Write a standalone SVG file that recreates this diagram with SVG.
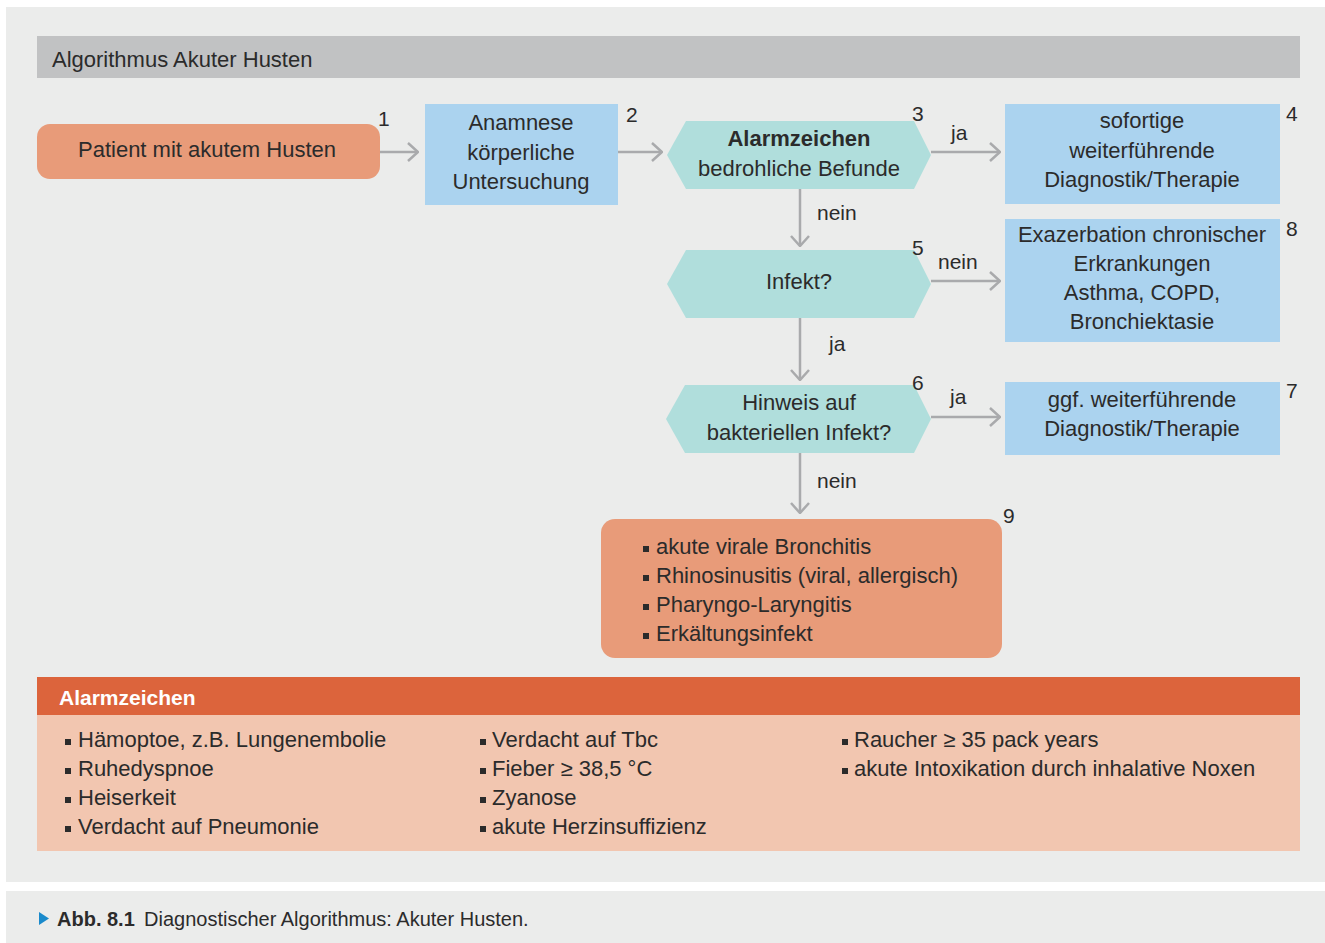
<svg xmlns="http://www.w3.org/2000/svg" width="1325" height="943" viewBox="0 0 1325 943">
<defs>
<style>
text{font-family:"Liberation Sans",Arial,sans-serif;fill:#2b2b2b;font-size:22px}
.c{text-anchor:middle}
.num{font-size:21px}
.lbl{font-size:21px}
.b{font-weight:bold}
.conn{stroke:#a9aaac;stroke-width:2.5;fill:none}
.orange{fill:#e89b79}
.blue{fill:#abd3ef}
.teal{fill:#b0dedc}
.cap{font-size:20px}
</style>
<marker id="arr" viewBox="0 0 12 20" refX="11" refY="10" markerWidth="12" markerHeight="20" markerUnits="userSpaceOnUse" orient="auto">
<path d="M1,1 L11,10 L1,19" fill="none" stroke="#a9aaac" stroke-width="2.5"/>
</marker>
</defs>
<rect width="1325" height="943" fill="#ffffff"/>
<rect x="6" y="7" width="1319" height="875" fill="#ebeceb"/>
<rect x="6" y="891" width="1319" height="52" fill="#ebeceb"/>
<g id="title">
<rect x="37" y="36" width="1263" height="42" fill="#c1c2c3"/>
<text x="52" y="67">Algorithmus Akuter Husten</text>
</g>
<g id="connectors">
<line class="conn" x1="380" y1="152" x2="418" y2="152" marker-end="url(#arr)"/>
<line class="conn" x1="618" y1="152" x2="662" y2="152" marker-end="url(#arr)"/>
<line class="conn" x1="931" y1="152" x2="1000" y2="152" marker-end="url(#arr)"/>
<text class="lbl" x="951" y="140">ja</text>
<line class="conn" x1="800" y1="189" x2="800" y2="246" marker-end="url(#arr)"/>
<text class="lbl" x="817" y="220">nein</text>
<line class="conn" x1="931" y1="281" x2="1000" y2="281" marker-end="url(#arr)"/>
<text class="lbl" x="938" y="269">nein</text>
<line class="conn" x1="800" y1="318" x2="800" y2="380" marker-end="url(#arr)"/>
<text class="lbl" x="829" y="351">ja</text>
<line class="conn" x1="931" y1="417" x2="1000" y2="417" marker-end="url(#arr)"/>
<text class="lbl" x="950" y="404">ja</text>
<line class="conn" x1="800" y1="453" x2="800" y2="513" marker-end="url(#arr)"/>
<text class="lbl" x="817" y="488">nein</text>
</g>
<g id="n1">
<rect class="orange" x="37" y="124" width="343" height="55" rx="13"/>
<text class="c" x="207" y="157">Patient mit akutem Husten</text>
<text class="num" x="378" y="126">1</text>
</g>
<g id="n2">
<rect class="blue" x="425" y="104" width="193" height="101"/>
<text class="c" x="521" y="130">Anamnese</text>
<text class="c" x="521" y="160">körperliche</text>
<text class="c" x="521" y="189">Untersuchung</text>
<text class="num" x="626" y="122">2</text>
</g>
<g id="n3">
<polygon class="teal" points="667,155 686,121 914,121 931,155 914,189 686,189"/>
<text class="c b" x="799" y="146">Alarmzeichen</text>
<text class="c" x="799" y="176">bedrohliche Befunde</text>
<text class="num" x="912" y="121">3</text>
</g>
<g id="n4">
<rect class="blue" x="1005" y="104" width="275" height="100"/>
<text class="c" x="1142" y="128">sofortige</text>
<text class="c" x="1142" y="158">weiterführende</text>
<text class="c" x="1142" y="187">Diagnostik/Therapie</text>
<text class="num" x="1286" y="121">4</text>
</g>
<g id="n5">
<polygon class="teal" points="667,284 686,250 914,250 931,284 914,318 686,318"/>
<text class="c" x="799" y="289">Infekt?</text>
<text class="num" x="912" y="255">5</text>
</g>
<g id="n8">
<rect class="blue" x="1005" y="219" width="275" height="123"/>
<text class="c" x="1142" y="242">Exazerbation chronischer</text>
<text class="c" x="1142" y="271">Erkrankungen</text>
<text class="c" x="1142" y="300">Asthma, COPD,</text>
<text class="c" x="1142" y="329">Bronchiektasie</text>
<text class="num" x="1286" y="236">8</text>
</g>
<g id="n6">
<polygon class="teal" points="666,419 685,385 914,385 931,419 914,453 685,453"/>
<text class="c" x="799" y="410">Hinweis auf</text>
<text class="c" x="799" y="440">bakteriellen Infekt?</text>
<text class="num" x="912" y="390">6</text>
</g>
<g id="n7">
<rect class="blue" x="1005" y="382" width="275" height="73"/>
<text class="c" x="1142" y="407">ggf. weiterführende</text>
<text class="c" x="1142" y="436">Diagnostik/Therapie</text>
<text class="num" x="1286" y="398">7</text>
</g>
<g id="n9">
<rect class="orange" x="601" y="519" width="401" height="139" rx="14"/>
<rect x="643" y="546" width="6" height="6" fill="#2b2b2b"/>
<text x="656" y="554">akute virale Bronchitis</text>
<rect x="643" y="575" width="6" height="6" fill="#2b2b2b"/>
<text x="656" y="583">Rhinosinusitis (viral, allergisch)</text>
<rect x="643" y="604" width="6" height="6" fill="#2b2b2b"/>
<text x="656" y="612">Pharyngo-Laryngitis</text>
<rect x="643" y="633" width="6" height="6" fill="#2b2b2b"/>
<text x="656" y="641">Erkältungsinfekt</text>
<text class="num" x="1003" y="523">9</text>
</g>
<g id="alarm">
<rect x="37" y="677" width="1263" height="38" fill="#dc643c"/>
<rect x="37" y="715" width="1263" height="136" fill="#f2c6b0"/>
<text x="59" y="705" class="b" style="fill:#ffffff;font-size:21px">Alarmzeichen</text>
<g fill="#2b2b2b">
<rect x="65" y="739" width="6" height="6"/><rect x="65" y="768" width="6" height="6"/><rect x="65" y="797" width="6" height="6"/><rect x="65" y="826" width="6" height="6"/>
<rect x="480" y="739" width="6" height="6"/><rect x="480" y="768" width="6" height="6"/><rect x="480" y="797" width="6" height="6"/><rect x="480" y="826" width="6" height="6"/>
<rect x="842" y="739" width="6" height="6"/><rect x="842" y="768" width="6" height="6"/>
</g>
<text x="78" y="747">Hämoptoe, z.B. Lungenembolie</text>
<text x="78" y="776">Ruhedyspnoe</text>
<text x="78" y="805">Heiserkeit</text>
<text x="78" y="834">Verdacht auf Pneumonie</text>
<text x="492" y="747">Verdacht auf Tbc</text>
<text x="492" y="776">Fieber ≥ 38,5 °C</text>
<text x="492" y="805">Zyanose</text>
<text x="492" y="834">akute Herzinsuffizienz</text>
<text x="854" y="747">Raucher ≥ 35 pack years</text>
<text x="854" y="776">akute Intoxikation durch inhalative Noxen</text>
</g>
<g id="caption">
<polygon points="39,912 49,918.5 39,925" fill="#1a8acb"/>
<text x="57" y="926" class="b cap">Abb. 8.1</text>
<text x="144" y="926" class="cap">Diagnostischer Algorithmus: Akuter Husten.</text>
</g>
</svg>
